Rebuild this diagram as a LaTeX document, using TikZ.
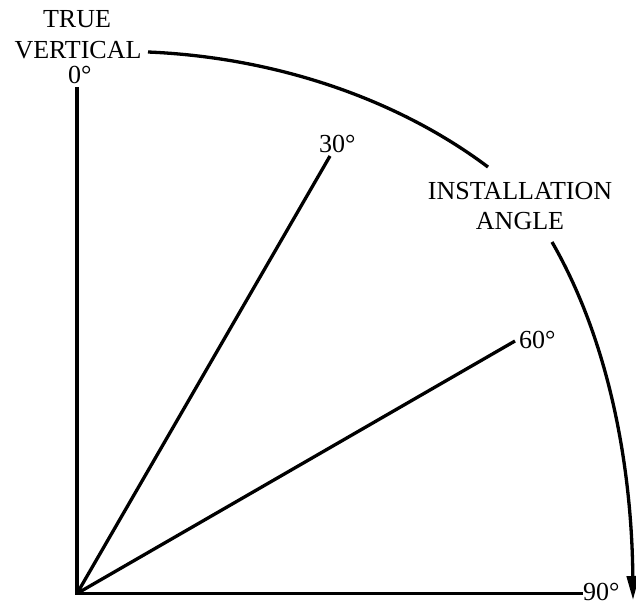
\documentclass[tikz,border=0pt]{standalone}
\usepackage{fontspec}
\setmainfont{Liberation Serif}
\usetikzlibrary{arrows.meta}
\begin{document}
\begin{tikzpicture}[x=1pt,y=-1pt,
  ray/.style={line width=3.3pt},
  lbl/.style={inner sep=0pt, font=\fontsize{26}{29}\selectfont}]
\useasboundingbox (0,0) rectangle (636,604);
% axes and rays
\coordinate (O) at (77,593.5);
\coordinate (A0) at (77,87);
\coordinate (A30) at (330,156);
\coordinate (A60) at (515,341);
\coordinate (A90) at (583,593.5);
\draw[ray] (A0) -- (O) -- (A90);
\draw[ray] (O) -- (A30);
\draw[ray] (O) -- (A60);
% labels
\node[lbl, anchor=base] (tv1) at (77,28) {TRUE};
\node[lbl, anchor=base] (tv2) at (78,59) {VERTICAL};
\node[lbl, anchor=base west] (l0) at (68,84) {0°};
\node[lbl, anchor=base west] (l30) at (319,153) {30°};
\node[lbl, anchor=base west] (l60) at (519,348) {60°};
\node[lbl, anchor=base west] (l90) at (583,600) {90°};
\node[lbl, anchor=base] (ia1) at (520,199) {INSTALLATION};
\node[lbl, anchor=base] (ia2) at (520,229) {ANGLE};
% installation angle arc
\coordinate (arcS) at (148,52);
\coordinate (arcM1) at (488,167);
\coordinate (arcM2) at (552,242);
\coordinate (arcE) at (633,600);
\draw[ray] (arcS) .. controls (268,57) and (392,95) .. (arcM1);
\draw[ray, -{Triangle[length=24pt,width=12pt]}] (arcM2) .. controls (613,348) and (632,478) .. (arcE);
\end{tikzpicture}
\end{document}
